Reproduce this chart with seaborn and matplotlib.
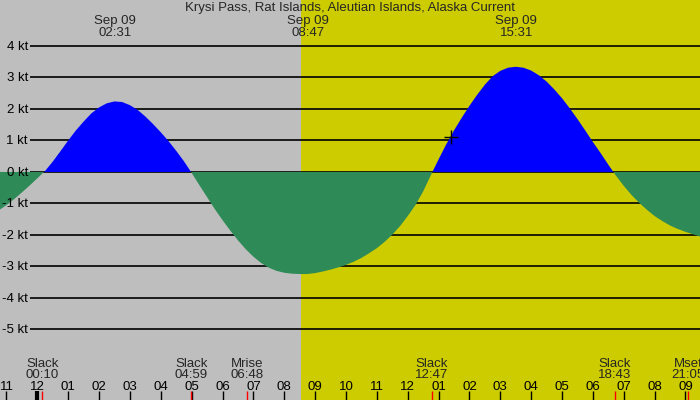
import numpy as np
import matplotlib
matplotlib.use("Agg")
import matplotlib.pyplot as plt
import seaborn as sns

# hours after midnight Sep 09 and current speed (kt)
hours = [-1.5, -1.25, -1.0, -0.75, -0.5, -0.25, 0.0, 0.25, 0.5, 0.75, 1.0, 1.25, 1.5, 1.75,
         2.0, 2.25, 2.5, 2.75, 3.0, 3.25, 3.5, 3.75, 4.0, 4.25, 4.5, 4.75, 5.0, 5.25,
         5.5, 5.75, 6.0, 6.25, 6.5, 6.75, 7.0, 7.25, 7.5, 7.75, 8.0, 8.25, 8.5, 8.75,
         9.0, 9.25, 9.5, 9.75, 10.0, 10.25, 10.5, 10.75, 11.0, 11.25, 11.5, 11.75, 12.0,
         12.25, 12.5, 12.75, 13.0, 13.25, 13.5, 13.75, 14.0, 14.25, 14.5, 14.75, 15.0,
         15.25, 15.5, 15.75, 16.0, 16.25, 16.5, 16.75, 17.0, 17.25, 17.5, 17.75, 18.0,
         18.25, 18.5, 18.75, 19.0, 19.25, 19.5, 19.75, 20.0, 20.25, 20.5, 20.75, 21.0,
         21.25, 21.5]
speed = [-1.4, -1.22, -1.05, -0.86, -0.65, -0.43, -0.2, 0.03, 0.33, 0.66, 1.0, 1.32, 1.6, 1.86,
         2.05, 2.18, 2.24, 2.22, 2.12, 1.97, 1.76, 1.52, 1.26, 0.98, 0.67, 0.34, -0.03, -0.42,
         -0.8, -1.18, -1.53, -1.86, -2.17, -2.45, -2.69, -2.89, -3.04, -3.14, -3.2, -3.23, -3.24, -3.24,
         -3.21, -3.16, -3.1, -3.03, -2.95, -2.85, -2.73, -2.58, -2.42, -2.22, -1.99, -1.72, -1.4,
         -1.05, -0.62, -0.1, 0.4, 0.88, 1.32, 1.72, 2.1, 2.45, 2.77, 3.04, 3.21,
         3.31, 3.34, 3.31, 3.22, 3.07, 2.87, 2.62, 2.34, 2.02, 1.68, 1.32, 0.95,
         0.6, 0.23, -0.12, -0.44, -0.73, -0.98, -1.2, -1.4, -1.56, -1.7, -1.81, -1.9,
         -1.98, -2.06]

# max current labels at the top
peak_hours = [2 + 31/60, 8 + 47/60, 15 + 31/60]
peak_labels = ["02:31", "08:47", "15:31"]

# events along the bottom
event_hours = [10/60, 4 + 59/60, 6 + 48/60, 12 + 47/60, 18 + 43/60, 21 + 5/60]
event_names = ["Slack", "Slack", "Mrise", "Slack", "Slack", "Mset"]
event_times = ["00:10", "04:59", "06:48", "12:47", "18:43", "21:05"]

hour_ticks = list(range(-1, 22))
hour_labels = ["11", "12", "01", "02", "03", "04", "05", "06", "07", "08", "09", "10",
               "11", "12", "01", "02", "03", "04", "05", "06", "07", "08", "09"]

kt_levels = [4, 3, 2, 1, 0, -1, -2, -3, -4, -5]
sunrise = 8.54
now_hour, now_speed = 13.39, 1.1

sns.set_theme(style="white")
plt.rcParams['font.family'] = ['Liberation Sans', 'DejaVu Sans']

gray = "#bebebe"
yellow = "#cccc00"
flood = "#0000ff"
ebb = "#2e8b57"
fs = 9.5

fig = plt.figure(figsize=(7, 4), dpi=100)
ax = fig.add_axes([0, 0, 1, 1])
x0, x1 = -1.21, 21.47
ax.set_xlim(x0, x1)
ax.set_ylim(-7.24, 5.46)
ax.axis("off")

ax.axvspan(x0, sunrise, color=gray, lw=0, zorder=0)
ax.axvspan(sunrise, x1, color=yellow, lw=0, zorder=0)

# horizontal kt lines and labels (baseline sits 4 px below the line)
xl = x0 + 30 / 700 * (x1 - x0)
for k in kt_levels:
    ax.hlines(k, xl, x1, color="black", lw=1.2, zorder=1)
    ax.text(x0 + 28 / 700 * (x1 - x0), k - 4 / 31.5, f"{k} kt", ha="right", va="baseline",
            fontsize=fs, color="black", zorder=3)

h = np.array(hours)
s = np.array(speed)
ax.fill_between(h, s, 0, where=s >= 0, interpolate=True, color=flood, lw=0, zorder=2)
ax.fill_between(h, s, 0, where=s <= 0, interpolate=True, color=ebb, lw=0, zorder=2)

sns.scatterplot(x=[now_hour], y=[now_speed], marker="+", s=90, color="black",
                linewidth=1, ax=ax, zorder=4)

trans = ax.get_xaxis_transform()
ax.vlines(hour_ticks, 0, 0.0225, color="black", lw=1, transform=trans, zorder=3)
ax.vlines([0], 0, 0.0225, color="black", lw=3, transform=trans, zorder=3)
ax.vlines(event_hours, 0, 0.0225, color="red", lw=1, transform=trans, zorder=3)
for t, lab in zip(hour_ticks, hour_labels):
    ax.text(t, 1 - 390 / 400, lab, ha="center", va="baseline", fontsize=fs,
            color="black", transform=trans)

for t, name, tm in zip(event_hours, event_names, event_times):
    ax.text(t, 1 - 366.7 / 400, name, ha="center", va="baseline", fontsize=fs, transform=trans)
    ax.text(t, 1 - 377.7 / 400, tm, ha="center", va="baseline", fontsize=fs, transform=trans)

for t, tm in zip(peak_hours, peak_labels):
    ax.text(t, 1 - 24.3 / 400, "Sep 09", ha="center", va="baseline", fontsize=fs, transform=trans)
    ax.text(t, 1 - 36 / 400, tm, ha="center", va="baseline", fontsize=fs, transform=trans)

ax.text(0.5, 1 - 11 / 400, "Krysi Pass, Rat Islands, Aleutian Islands, Alaska Current",
        ha="center", va="baseline", fontsize=fs, transform=ax.transAxes)

fig.savefig("out.png", dpi=100)
